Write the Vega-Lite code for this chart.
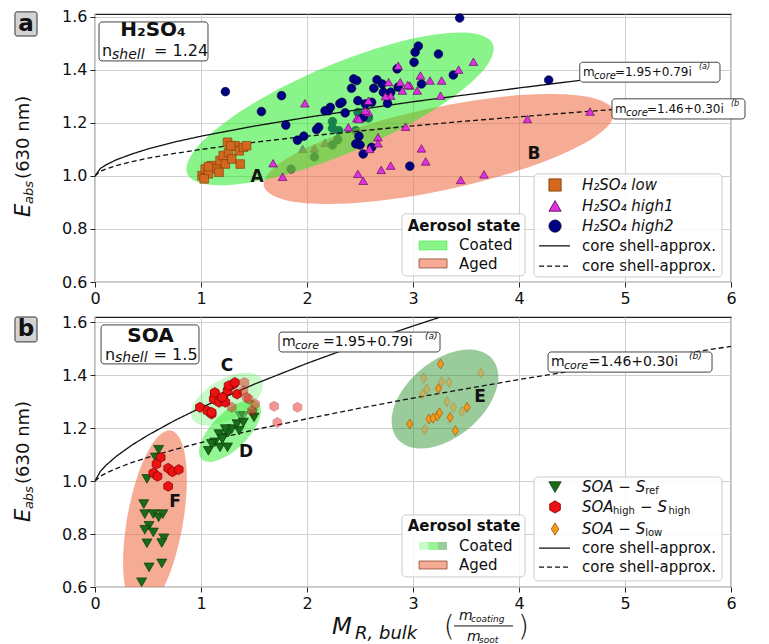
{
"$schema": "https://vega.github.io/schema/vega-lite/v6.json",
"padding": {"left": 12, "top": 8, "right": 5, "bottom": 5},
"background": "white",
"spacing": 35,
"bounds": "flush",
"config": {
  "font": "DejaVu Sans",
  "view": {"stroke": "#222", "strokeWidth": 1.2},
  "axis": {"grid": true, "gridColor": "#d0d0d0", "gridWidth": 1, "domain": false, "tickColor": "#222", "tickSize": 5, "labelFontSize": 16, "labelColor": "#111", "labelPadding": 3, "title": null, "labelFlush": false, "labelOverlap": false}
},
"datasets": {
  "ptsA": [
    {"s":"low","x":1.01,"y":1.001},{"s":"low","x":1.04,"y":1.026},{"s":"low","x":1.07,"y":1.008},{"s":"low","x":1.10,"y":1.039},{"s":"low","x":1.15,"y":1.026},{"s":"low","x":1.18,"y":1.058},{"s":"low","x":1.21,"y":1.077},{"s":"low","x":1.23,"y":1.045},{"s":"low","x":1.26,"y":1.089},{"s":"low","x":1.29,"y":1.064},{"s":"low","x":1.25,"y":1.127},{"s":"low","x":1.32,"y":1.114},{"s":"low","x":1.36,"y":1.095},{"s":"low","x":1.40,"y":1.108},{"s":"low","x":1.37,"y":1.045},{"s":"low","x":1.43,"y":1.114},{"s":"low","x":1.03,"y":0.989},{"s":"low","x":1.17,"y":1.014},{"s":"low","x":1.28,"y":1.114},{"s":"low","x":1.07,"y":1.035},
    {"s":"high2","x":2.07,"y":1.072,"u":1},{"s":"high2","x":1.85,"y":1.026,"u":1},{"s":"high2","x":2.48,"y":1.240,"u":1},{"s":"high2","x":2.58,"y":1.219,"u":1},{"s":"high2","x":2.24,"y":1.205,"u":1},{"s":"high2","x":2.30,"y":1.171,"u":1},{"s":"high2","x":2.24,"y":1.180,"u":1},{"s":"high2","x":2.46,"y":1.171,"u":1},{"s":"high2","x":2.24,"y":1.117,"u":1},{"s":"high2","x":2.29,"y":1.137,"u":1},
    {"s":"high1","x":1.96,"y":1.102,"u":1},{"s":"high1","x":2.07,"y":1.104,"u":1},{"s":"high1","x":2.17,"y":1.125,"u":1},
    {"s":"high2","x":1.23,"y":1.318},{"s":"high2","x":1.76,"y":1.303},{"s":"high2","x":1.57,"y":1.243},{"s":"high2","x":1.80,"y":1.192},{"s":"high2","x":1.97,"y":1.150},{"s":"high2","x":1.91,"y":1.135},{"s":"high2","x":2.09,"y":1.175},{"s":"high2","x":2.20,"y":1.246},{"s":"high2","x":2.31,"y":1.273},{"s":"high2","x":2.36,"y":1.238},{"s":"high2","x":2.48,"y":1.284},{"s":"high2","x":2.55,"y":1.272},{"s":"high2","x":2.76,"y":1.274},{"s":"high2","x":2.49,"y":1.150},{"s":"high2","x":2.46,"y":1.121},{"s":"high2","x":2.50,"y":1.117},{"s":"high2","x":2.53,"y":1.083},{"s":"high2","x":2.61,"y":1.108},{"s":"high2","x":2.97,"y":1.037},
    {"s":"high2","x":3.02,"y":1.467},{"s":"high2","x":3.24,"y":1.460},{"s":"high2","x":3.01,"y":1.429},{"s":"high2","x":2.85,"y":1.404},{"s":"high2","x":2.47,"y":1.360},{"s":"high2","x":2.44,"y":1.366},{"s":"high2","x":2.66,"y":1.363},{"s":"high2","x":2.71,"y":1.347},{"s":"high2","x":2.42,"y":1.331},{"s":"high2","x":2.63,"y":1.331},{"s":"high2","x":2.72,"y":1.316},{"s":"high2","x":2.79,"y":1.316},{"s":"high2","x":2.86,"y":1.335},{"s":"high2","x":3.08,"y":1.347},{"s":"high2","x":3.38,"y":1.381},{"s":"high2","x":2.33,"y":1.278},{"s":"high2","x":2.22,"y":1.259},{"s":"high2","x":2.17,"y":1.246},{"s":"high2","x":2.11,"y":1.184},{"s":"high2","x":2.61,"y":1.278},{"s":"high2","x":4.28,"y":1.362},{"s":"high2","x":2.53,"y":1.221},{"s":"high2","x":3.44,"y":1.596},{"s":"high2","x":3.05,"y":1.49},
    {"s":"high1","x":1.98,"y":1.274},{"s":"high1","x":1.68,"y":1.048},{"s":"high1","x":1.77,"y":0.997},{"s":"high1","x":2.48,"y":1.008},{"s":"high1","x":2.53,"y":0.982},{"s":"high1","x":2.70,"y":1.023},{"s":"high1","x":2.79,"y":1.039},{"s":"high1","x":3.08,"y":1.104},{"s":"high1","x":3.12,"y":1.055},{"s":"high1","x":3.45,"y":0.985},{"s":"high1","x":3.67,"y":1.006},{"s":"high1","x":2.93,"y":1.186},{"s":"high1","x":2.67,"y":1.146},{"s":"high1","x":2.67,"y":1.123},{"s":"high1","x":2.59,"y":1.102},{"s":"high1","x":2.39,"y":1.184},{"s":"high1","x":2.58,"y":1.240},{"s":"high1","x":2.47,"y":1.218},{"s":"high1","x":2.86,"y":1.416},{"s":"high1","x":3.57,"y":1.431},{"s":"high1","x":3.43,"y":1.401},{"s":"high1","x":3.07,"y":1.379},{"s":"high1","x":2.77,"y":1.354},{"s":"high1","x":2.88,"y":1.354},{"s":"high1","x":2.97,"y":1.341},{"s":"high1","x":3.16,"y":1.360},{"s":"high1","x":3.27,"y":1.360},{"s":"high1","x":3.04,"y":1.322},{"s":"high1","x":2.95,"y":1.343},{"s":"high1","x":2.90,"y":1.322},{"s":"high1","x":2.79,"y":1.303},{"s":"high1","x":3.26,"y":1.303},{"s":"high1","x":2.58,"y":1.284},{"s":"high1","x":2.74,"y":1.301},{"s":"high1","x":2.55,"y":1.246},{"s":"high1","x":2.49,"y":1.215},{"s":"high1","x":4.08,"y":1.215},{"s":"high1","x":4.67,"y":1.243}
  ],
  "ptsB": [
    {"s":"ref","x":0.60,"y":1.118},{"s":"ref","x":0.57,"y":1.089},{"s":"ref","x":0.49,"y":1.008},{"s":"ref","x":0.46,"y":0.913},{"s":"ref","x":0.47,"y":0.875},{"s":"ref","x":0.55,"y":0.875},{"s":"ref","x":0.60,"y":0.863},{"s":"ref","x":0.64,"y":0.875},{"s":"ref","x":0.51,"y":0.831},{"s":"ref","x":0.47,"y":0.816},{"s":"ref","x":0.55,"y":0.806},{"s":"ref","x":0.65,"y":0.784},{"s":"ref","x":0.63,"y":0.766},{"s":"ref","x":0.49,"y":0.765},{"s":"ref","x":0.51,"y":0.674},{"s":"ref","x":0.63,"y":0.689},{"s":"ref","x":0.44,"y":0.618},
    {"s":"ref","x":1.07,"y":1.114},{"s":"ref","x":1.13,"y":1.146},{"s":"ref","x":1.18,"y":1.127},{"s":"ref","x":1.25,"y":1.127},{"s":"ref","x":1.21,"y":1.165},{"s":"ref","x":1.17,"y":1.177},{"s":"ref","x":1.26,"y":1.184},{"s":"ref","x":1.29,"y":1.196},{"s":"ref","x":1.36,"y":1.190},{"s":"ref","x":1.34,"y":1.215},{"s":"ref","x":1.40,"y":1.221},{"s":"ref","x":1.50,"y":1.240},{"s":"ref","x":1.10,"y":1.140},{"s":"ref","x":1.20,"y":1.158},{"s":"ref","x":1.23,"y":1.196},{"s":"ref","x":1.49,"y":1.255,"f":1},{"s":"ref","x":1.40,"y":1.246,"f":1},{"s":"ref","x":1.37,"y":1.245,"f":1},
    {"s":"high","x":0.99,"y":1.278},{"s":"high","x":1.06,"y":1.265},{"s":"high","x":1.10,"y":1.253},{"s":"high","x":1.13,"y":1.328},{"s":"high","x":1.12,"y":1.309},{"s":"high","x":1.17,"y":1.297},{"s":"high","x":1.21,"y":1.316},{"s":"high","x":1.23,"y":1.297},{"s":"high","x":1.28,"y":1.360},{"s":"high","x":1.31,"y":1.366},{"s":"high","x":1.25,"y":1.341},{"s":"high","x":1.34,"y":1.328},{"s":"high","x":1.13,"y":1.334},{"s":"high","x":1.20,"y":1.316},{"s":"high","x":1.26,"y":1.360},{"s":"high","x":1.32,"y":1.372},{"s":"high","x":1.10,"y":1.259},
    {"s":"high","x":1.29,"y":1.278,"f":1},{"s":"high","x":1.40,"y":1.341,"f":1},{"s":"high","x":1.43,"y":1.316,"f":1},{"s":"high","x":1.51,"y":1.291,"f":1},{"s":"high","x":1.48,"y":1.265,"f":1},{"s":"high","x":1.69,"y":1.282,"f":1},{"s":"high","x":1.91,"y":1.278,"f":1},{"s":"high","x":1.72,"y":1.221,"f":1},{"s":"high","x":1.41,"y":1.372,"f":1},{"s":"high","x":1.45,"y":1.309,"f":1},
    {"s":"high","x":0.62,"y":1.089},{"s":"high","x":0.58,"y":1.064},{"s":"high","x":0.69,"y":1.048},{"s":"high","x":0.73,"y":1.035},{"s":"high","x":0.79,"y":1.043},{"s":"high","x":0.55,"y":1.030},{"s":"high","x":0.59,"y":1.018},{"s":"high","x":0.69,"y":0.980},
    {"s":"slow","x":3.26,"y":1.442},{"s":"slow","x":3.10,"y":1.388,"f":1},{"s":"slow","x":3.64,"y":1.408,"f":1},{"s":"slow","x":3.27,"y":1.375,"f":1},{"s":"slow","x":3.34,"y":1.372,"f":1},{"s":"slow","x":3.13,"y":1.347,"f":1},{"s":"slow","x":3.09,"y":1.328,"f":1},{"s":"slow","x":3.24,"y":1.349},{"s":"slow","x":3.32,"y":1.299,"f":1},{"s":"slow","x":3.38,"y":1.278,"f":1},{"s":"slow","x":3.46,"y":1.262,"f":1},{"s":"slow","x":3.51,"y":1.278},{"s":"slow","x":3.15,"y":1.234},{"s":"slow","x":3.19,"y":1.237},{"s":"slow","x":3.23,"y":1.246},{"s":"slow","x":3.25,"y":1.257},{"s":"slow","x":3.35,"y":1.240},{"s":"slow","x":2.97,"y":1.215},{"s":"slow","x":3.11,"y":1.194,"f":1},{"s":"slow","x":3.40,"y":1.190}
  ],
  "ell": [
    {"p":"a","e":"B","i":0,"x":4.897,"y":1.242},{"p":"a","e":"B","i":1,"x":4.635,"y":1.300},{"p":"a","e":"B","i":2,"x":4.001,"y":1.305},{"p":"a","e":"B","i":3,"x":3.164,"y":1.255},{"p":"a","e":"B","i":4,"x":2.349,"y":1.164},{"p":"a","e":"B","i":5,"x":1.775,"y":1.057},{"p":"a","e":"B","i":6,"x":1.593,"y":0.962},{"p":"a","e":"B","i":7,"x":1.856,"y":0.904},{"p":"a","e":"B","i":8,"x":2.490,"y":0.899},{"p":"a","e":"B","i":9,"x":3.326,"y":0.949},{"p":"a","e":"B","i":10,"x":4.142,"y":1.040},{"p":"a","e":"B","i":11,"x":4.716,"y":1.147},
    {"p":"a","e":"A","i":0,"x":3.753,"y":1.498},{"p":"a","e":"A","i":1,"x":3.478,"y":1.541},{"p":"a","e":"A","i":2,"x":2.892,"y":1.508},{"p":"a","e":"A","i":3,"x":2.149,"y":1.406},{"p":"a","e":"A","i":4,"x":1.450,"y":1.263},{"p":"a","e":"A","i":5,"x":0.982,"y":1.117},{"p":"a","e":"A","i":6,"x":0.870,"y":1.008},{"p":"a","e":"A","i":7,"x":1.144,"y":0.965},{"p":"a","e":"A","i":8,"x":1.731,"y":0.998},{"p":"a","e":"A","i":9,"x":2.474,"y":1.100},{"p":"a","e":"A","i":10,"x":3.173,"y":1.243},{"p":"a","e":"A","i":11,"x":3.641,"y":1.388},
    {"p":"b","e":"C","i":0,"x":1.572,"y":1.385},{"p":"b","e":"C","i":1,"x":1.481,"y":1.407},{"p":"b","e":"C","i":2,"x":1.327,"y":1.404},{"p":"b","e":"C","i":3,"x":1.151,"y":1.375},{"p":"b","e":"C","i":4,"x":1.000,"y":1.328},{"p":"b","e":"C","i":5,"x":0.915,"y":1.277},{"p":"b","e":"C","i":6,"x":0.918,"y":1.234},{"p":"b","e":"C","i":7,"x":1.009,"y":1.211},{"p":"b","e":"C","i":8,"x":1.164,"y":1.215},{"p":"b","e":"C","i":9,"x":1.340,"y":1.244},{"p":"b","e":"C","i":10,"x":1.490,"y":1.291},{"p":"b","e":"C","i":11,"x":1.575,"y":1.342},
    {"p":"b","e":"D","i":0,"x":1.540,"y":1.295},{"p":"b","e":"D","i":1,"x":1.445,"y":1.305},{"p":"b","e":"D","i":2,"x":1.303,"y":1.284},{"p":"b","e":"D","i":3,"x":1.153,"y":1.237},{"p":"b","e":"D","i":4,"x":1.036,"y":1.177},{"p":"b","e":"D","i":5,"x":0.983,"y":1.120},{"p":"b","e":"D","i":6,"x":1.007,"y":1.082},{"p":"b","e":"D","i":7,"x":1.103,"y":1.072},{"p":"b","e":"D","i":8,"x":1.244,"y":1.094},{"p":"b","e":"D","i":9,"x":1.394,"y":1.141},{"p":"b","e":"D","i":10,"x":1.511,"y":1.200},{"p":"b","e":"D","i":11,"x":1.565,"y":1.257},
    {"p":"b","e":"E","i":0,"x":3.750,"y":1.460},{"p":"b","e":"E","i":1,"x":3.575,"y":1.495},{"p":"b","e":"E","i":2,"x":3.326,"y":1.480},{"p":"b","e":"E","i":3,"x":3.071,"y":1.419},{"p":"b","e":"E","i":4,"x":2.878,"y":1.329},{"p":"b","e":"E","i":5,"x":2.799,"y":1.234},{"p":"b","e":"E","i":6,"x":2.854,"y":1.159},{"p":"b","e":"E","i":7,"x":3.029,"y":1.124},{"p":"b","e":"E","i":8,"x":3.278,"y":1.139},{"p":"b","e":"E","i":9,"x":3.532,"y":1.200},{"p":"b","e":"E","i":10,"x":3.725,"y":1.290},{"p":"b","e":"E","i":11,"x":3.805,"y":1.385},
    {"p":"b","e":"F","i":0,"x":0.717,"y":1.191},{"p":"b","e":"F","i":1,"x":0.566,"y":1.154},{"p":"b","e":"F","i":2,"x":0.416,"y":1.036},{"p":"b","e":"F","i":3,"x":0.306,"y":0.867},{"p":"b","e":"F","i":4,"x":0.265,"y":0.694},{"p":"b","e":"F","i":5,"x":0.305,"y":0.562},{"p":"b","e":"F","i":6,"x":0.415,"y":0.507},{"p":"b","e":"F","i":7,"x":0.566,"y":0.544},{"p":"b","e":"F","i":8,"x":0.716,"y":0.662},{"p":"b","e":"F","i":9,"x":0.826,"y":0.831},{"p":"b","e":"F","i":10,"x":0.867,"y":1.004},{"p":"b","e":"F","i":11,"x":0.827,"y":1.136}
  ],
  "crv": [
    {"p":"a","k":"solid","x":0,"y":1.0},{"p":"a","k":"solid","x":0.05,"y":1.028},{"p":"a","k":"solid","x":0.1,"y":1.041},{"p":"a","k":"solid","x":0.2,"y":1.061},{"p":"a","k":"solid","x":0.35,"y":1.083},{"p":"a","k":"solid","x":0.5,"y":1.102},{"p":"a","k":"solid","x":0.75,"y":1.128},{"p":"a","k":"solid","x":1,"y":1.15},{"p":"a","k":"solid","x":1.5,"y":1.188},{"p":"a","k":"solid","x":2,"y":1.221},{"p":"a","k":"solid","x":2.5,"y":1.251},{"p":"a","k":"solid","x":3,"y":1.28},{"p":"a","k":"solid","x":3.5,"y":1.306},{"p":"a","k":"solid","x":4,"y":1.332},{"p":"a","k":"solid","x":4.6,"y":1.362},
    {"p":"a","k":"dashed","x":0,"y":1.0},{"p":"a","k":"dashed","x":0.05,"y":1.018},{"p":"a","k":"dashed","x":0.1,"y":1.026},{"p":"a","k":"dashed","x":0.2,"y":1.039},{"p":"a","k":"dashed","x":0.35,"y":1.054},{"p":"a","k":"dashed","x":0.5,"y":1.067},{"p":"a","k":"dashed","x":0.75,"y":1.085},{"p":"a","k":"dashed","x":1,"y":1.1},{"p":"a","k":"dashed","x":1.5,"y":1.127},{"p":"a","k":"dashed","x":2,"y":1.15},{"p":"a","k":"dashed","x":2.5,"y":1.17},{"p":"a","k":"dashed","x":3,"y":1.189},{"p":"a","k":"dashed","x":3.5,"y":1.207},{"p":"a","k":"dashed","x":4,"y":1.223},{"p":"a","k":"dashed","x":4.5,"y":1.239},{"p":"a","k":"dashed","x":4.9,"y":1.251},
    {"p":"b","k":"solid","x":0,"y":1.0},{"p":"b","k":"solid","x":0.05,"y":1.036},{"p":"b","k":"solid","x":0.1,"y":1.058},{"p":"b","k":"solid","x":0.2,"y":1.093},{"p":"b","k":"solid","x":0.35,"y":1.136},{"p":"b","k":"solid","x":0.5,"y":1.173},{"p":"b","k":"solid","x":0.75,"y":1.228},{"p":"b","k":"solid","x":1,"y":1.277},{"p":"b","k":"solid","x":1.5,"y":1.365},{"p":"b","k":"solid","x":2,"y":1.444},{"p":"b","k":"solid","x":2.5,"y":1.517},{"p":"b","k":"solid","x":3,"y":1.585},{"p":"b","k":"solid","x":3.3,"y":1.624},
    {"p":"b","k":"dashed","x":0,"y":1.0},{"p":"b","k":"dashed","x":0.05,"y":1.018},{"p":"b","k":"dashed","x":0.1,"y":1.029},{"p":"b","k":"dashed","x":0.2,"y":1.047},{"p":"b","k":"dashed","x":0.35,"y":1.07},{"p":"b","k":"dashed","x":0.5,"y":1.089},{"p":"b","k":"dashed","x":0.75,"y":1.119},{"p":"b","k":"dashed","x":1,"y":1.145},{"p":"b","k":"dashed","x":1.5,"y":1.193},{"p":"b","k":"dashed","x":2,"y":1.235},{"p":"b","k":"dashed","x":2.5,"y":1.275},{"p":"b","k":"dashed","x":3,"y":1.313},{"p":"b","k":"dashed","x":3.5,"y":1.348},{"p":"b","k":"dashed","x":4,"y":1.383},{"p":"b","k":"dashed","x":4.5,"y":1.415},{"p":"b","k":"dashed","x":5,"y":1.447},{"p":"b","k":"dashed","x":5.5,"y":1.478},{"p":"b","k":"dashed","x":6,"y":1.508}
  ],
  "boxDark": [
    {"p":"a","x":0.038,"x2":1.066,"y":1.581,"y2":1.434},{"p":"a","x":4.573,"x2":5.896,"y":1.429,"y2":1.354},{"p":"a","x":4.877,"x2":6.132,"y":1.291,"y2":1.215},
    {"p":"b","x":0.057,"x2":0.981,"y":1.589,"y2":1.442},{"p":"b","x":1.736,"x2":3.255,"y":1.562,"y2":1.487},{"p":"b","x":4.274,"x2":5.821,"y":1.487,"y2":1.411}
  ],
  "boxLight": [
    {"p":"a","x":4.142,"x2":5.915,"y":1.008,"y2":0.619},{"p":"a","x":2.896,"x2":4.057,"y":0.857,"y2":0.623},
    {"p":"b","x":4.142,"x2":5.915,"y":1.015,"y2":0.623},{"p":"b","x":2.896,"x2":4.057,"y":0.872,"y2":0.638}
  ],
  "tagBox": [{"p":"a","x":-0.755,"x2":-0.547,"y":1.619,"y2":1.528},{"p":"b","x":-0.755,"x2":-0.547,"y":1.619,"y2":1.525}],
  "sw": [
    {"p":"a","e":"A","x":3.057,"x2":3.321,"y":0.755,"y2":0.721},{"p":"a","e":"B","x":3.057,"x2":3.321,"y":0.687,"y2":0.653},
    {"p":"b","e":"C","x":3.057,"x2":3.145,"y":0.770,"y2":0.740},{"p":"b","e":"D","x":3.145,"x2":3.233,"y":0.770,"y2":0.740},{"p":"b","e":"E","x":3.233,"x2":3.321,"y":0.770,"y2":0.740},{"p":"b","e":"F","x":3.057,"x2":3.321,"y":0.698,"y2":0.668}
  ],
  "legM": [
    {"p":"a","s":"low","x":4.34,"y":0.966},{"p":"a","s":"high1","x":4.34,"y":0.887},{"p":"a","s":"high2","x":4.34,"y":0.811},
    {"p":"b","s":"ref","x":4.34,"y":0.977},{"p":"b","s":"high","x":4.34,"y":0.902},{"p":"b","s":"slow","x":4.34,"y":0.819}
  ],
  "legL": [
    {"p":"a","k":"solid","x":4.189,"x2":4.481,"y":0.736},{"p":"a","k":"dashed","x":4.189,"x2":4.481,"y":0.660},
    {"p":"b","k":"solid","x":4.189,"x2":4.481,"y":0.747},{"p":"b","k":"dashed","x":4.189,"x2":4.481,"y":0.675}
  ],
  "tag": [{"p":"a","t":"a","x":-0.651,"y":1.574},{"p":"b","t":"b","x":-0.651,"y":1.572}],
  "ttl": [{"p":"a","t":"H₂SO₄","x":0.547,"y":1.549},{"p":"b","t":"SOA","x":0.524,"y":1.549}],
  "nMain": [{"p":"a","t":"n","x":0.066,"y":1.471},{"p":"a","t":"= 1.24","x":0.557,"y":1.471},{"p":"b","t":"n","x":0.094,"y":1.477},{"p":"b","t":"= 1.5","x":0.553,"y":1.477}],
  "nSub": [{"p":"a","t":"shell","x":0.160,"y":1.458},{"p":"b","t":"shell","x":0.189,"y":1.464}],
  "mMain": [
    {"p":"a","t":"m","x":4.604,"y":1.392},{"p":"a","t":"=1.95+0.79i","x":4.905,"y":1.392},{"p":"a","t":"m","x":4.906,"y":1.253},{"p":"a","t":"=1.46+0.30i","x":5.207,"y":1.253},
    {"p":"b","t":"m","x":1.764,"y":1.525},{"p":"b","t":"=1.95+0.79i","x":2.150,"y":1.525},{"p":"b","t":"m","x":4.302,"y":1.449},{"p":"b","t":"=1.46+0.30i","x":4.655,"y":1.449}
  ],
  "mSub": [
    {"p":"a","t":"core","x":4.708,"y":1.377},{"p":"a","t":"core","x":5.009,"y":1.238},
    {"p":"b","t":"core","x":1.887,"y":1.509},{"p":"b","t":"core","x":4.425,"y":1.434}
  ],
  "mSup": [
    {"p":"a","t":"(a)","x":5.698,"y":1.411},{"p":"a","t":"(b","x":6.0,"y":1.272},
    {"p":"b","t":"(a)","x":3.113,"y":1.547},{"p":"b","t":"(b)","x":5.604,"y":1.472}
  ],
  "ellLab": [
    {"p":"a","t":"A","x":1.528,"y":0.996},{"p":"a","t":"B","x":4.142,"y":1.083},
    {"p":"b","t":"C","x":1.245,"y":1.434},{"p":"b","t":"D","x":1.425,"y":1.109},{"p":"b","t":"E","x":3.632,"y":1.317},{"p":"b","t":"F","x":0.755,"y":0.921}
  ],
  "legIt": [
    {"p":"a","t":"H₂SO₄ low","x":4.594,"y":0.966},{"p":"a","t":"H₂SO₄ high1","x":4.594,"y":0.887},{"p":"a","t":"H₂SO₄ high2","x":4.594,"y":0.811},
    {"p":"b","t":"SOA − S","x":4.594,"y":0.977},{"p":"b","t":"SOA","x":4.594,"y":0.902},{"p":"b","t":"− S","x":5.142,"y":0.902},{"p":"b","t":"SOA − S","x":4.594,"y":0.819}
  ],
  "legSub": [
    {"p":"b","t":"ref","x":5.19,"y":0.962},{"p":"b","t":"high","x":4.887,"y":0.887},{"p":"b","t":"high","x":5.41,"y":0.887},{"p":"b","t":"low","x":5.19,"y":0.804}
  ],
  "legTxt": [
    {"p":"a","t":"core shell-approx.","x":4.594,"y":0.736},{"p":"a","t":"core shell-approx.","x":4.594,"y":0.660},{"p":"a","t":"Coated","x":3.434,"y":0.740},{"p":"a","t":"Aged","x":3.434,"y":0.668},
    {"p":"b","t":"core shell-approx.","x":4.594,"y":0.747},{"p":"b","t":"core shell-approx.","x":4.594,"y":0.675},{"p":"b","t":"Coated","x":3.434,"y":0.755},{"p":"b","t":"Aged","x":3.434,"y":0.683}
  ],
  "legBold": [{"p":"a","t":"Aerosol state","x":3.481,"y":0.811},{"p":"b","t":"Aerosol state","x":3.481,"y":0.830}],
  "yE": [{"p":"a","t":"E","x":-0.670,"y":0.845},{"p":"b","t":"E","x":-0.670,"y":0.845}],
  "yAbs": [{"p":"a","t":"abs","x":-0.623,"y":0.894},{"p":"b","t":"abs","x":-0.623,"y":0.894}],
  "yNm": [{"p":"a","t":"(630 nm)","x":-0.670,"y":0.989},{"p":"b","t":"(630 nm)","x":-0.670,"y":0.989}],
  "xBig": [{"t":"M","x":2.236,"y":0.449}],
  "xSub": [{"t":"R, bulk","x":2.453,"y":0.423}],
  "xPar": [{"t":"(","x":3.29,"y":0.445},{"t":")","x":3.99,"y":0.445}],
  "xFracM": [{"t":"m","x":3.434,"y":0.491},{"t":"m","x":3.509,"y":0.411}],
  "xFracS": [{"t":"coating","x":3.547,"y":0.479},{"t":"soot","x":3.623,"y":0.400}],
  "xRule": [{"x":3.387,"x2":3.943,"y":0.453}]
},
"resolve": {"scale": {"x": "independent", "y": "independent"}},
"vconcat": [
{
  "width": 636, "height": 268,
  "resolve": {"scale": {"fill": "independent", "stroke": "independent", "shape": "independent", "strokeDash": "independent"}},
  "encoding": {
    "x": {"field": "x", "type": "quantitative", "scale": {"domain": [0, 6], "nice": false, "zero": false}, "axis": {"values": [0,1,2,3,4,5,6], "format": "d"}},
    "y": {"field": "y", "type": "quantitative", "scale": {"domain": [0.6, 1.611], "nice": false, "zero": false}, "axis": {"values": [0.6,0.8,1.0,1.2,1.4,1.6], "format": ".1f"}}
  },
  "layer": [
    {"data": {"name": "ptsA"}, "transform": [{"filter": "datum.u == 1"}],
     "mark": {"type": "point", "filled": true, "size": 75, "strokeWidth": 0.6, "opacity": 1},
     "encoding": {
       "shape": {"field": "s", "type": "nominal", "legend": null, "scale": {"domain": ["low","high1","high2"], "range": ["square","triangle-up","circle"]}},
       "fill": {"field": "s", "type": "nominal", "legend": null, "scale": {"domain": ["low","high1","high2"], "range": ["#d2691e","#e030e0","#000080"]}},
       "stroke": {"field": "s", "type": "nominal", "legend": null, "scale": {"domain": ["low","high1","high2"], "range": ["#7a3a0a","#4b0050","#000030"]}}
     }},
    {"data": {"name": "ell"}, "transform": [{"filter": "datum.p == 'a'"}],
     "mark": {"type": "line", "interpolate": "cardinal-closed", "strokeOpacity": 0},
     "encoding": {
       "order": {"field": "i", "type": "quantitative"},
       "fill": {"field": "e", "type": "nominal", "legend": null, "scale": {"domain": ["B","A"], "range": ["rgba(240,110,70,0.58)","rgba(40,235,40,0.55)"]}}
     }},
    {"data": {"name": "crv"}, "transform": [{"filter": "datum.p == 'a'"}],
     "mark": {"type": "line", "color": "#111", "strokeWidth": 1.3, "clip": true},
     "encoding": {"strokeDash": {"field": "k", "type": "nominal", "legend": null, "scale": {"domain": ["solid","dashed"], "range": [[1,0],[5,3]]}}}},
    {"data": {"name": "ptsA"}, "transform": [{"filter": "datum.u != 1"}],
     "mark": {"type": "point", "filled": true, "size": 75, "strokeWidth": 0.6, "opacity": 1},
     "encoding": {
       "shape": {"field": "s", "type": "nominal", "legend": null, "scale": {"domain": ["low","high1","high2"], "range": ["square","triangle-up","circle"]}},
       "fill": {"field": "s", "type": "nominal", "legend": null, "scale": {"domain": ["low","high1","high2"], "range": ["#d2691e","#e030e0","#000080"]}},
       "stroke": {"field": "s", "type": "nominal", "legend": null, "scale": {"domain": ["low","high1","high2"], "range": ["#7a3a0a","#4b0050","#000030"]}}
     }},
    {"data": {"name": "boxDark"}, "transform": [{"filter": "datum.p == 'a'"}],
     "mark": {"type": "rect", "fill": "white", "stroke": "#444", "strokeWidth": 1, "cornerRadius": 3},
     "encoding": {"x2": {"field": "x2"}, "y2": {"field": "y2"}}},
    {"data": {"name": "boxLight"}, "transform": [{"filter": "datum.p == 'a'"}],
     "mark": {"type": "rect", "fill": "white", "fillOpacity": 0.85, "stroke": "#cccccc", "strokeWidth": 1, "cornerRadius": 4},
     "encoding": {"x2": {"field": "x2"}, "y2": {"field": "y2"}}},
    {"data": {"name": "tagBox"}, "transform": [{"filter": "datum.p == 'a'"}],
     "mark": {"type": "rect", "fill": "#d3d3d3", "stroke": "#333", "strokeWidth": 1, "cornerRadius": 2},
     "encoding": {"x2": {"field": "x2"}, "y2": {"field": "y2"}}},
    {"data": {"name": "sw"}, "transform": [{"filter": "datum.p == 'a'"}],
     "mark": {"type": "rect", "strokeWidth": 0.8},
     "encoding": {"x2": {"field": "x2"}, "y2": {"field": "y2"},
       "fill": {"field": "e", "type": "nominal", "legend": null, "scale": {"domain": ["A","B"], "range": ["rgba(40,235,40,0.55)","rgba(240,110,70,0.58)"]}},
       "stroke": {"field": "e", "type": "nominal", "legend": null, "scale": {"domain": ["A","B"], "range": ["rgba(40,235,40,0.6)","#8a4a30"]}}}},
    {"data": {"name": "legM"}, "transform": [{"filter": "datum.p == 'a'"}],
     "mark": {"type": "point", "filled": true, "size": 150, "strokeWidth": 0.8, "opacity": 1},
     "encoding": {
       "shape": {"field": "s", "type": "nominal", "legend": null, "scale": {"domain": ["low","high1","high2"], "range": ["square","triangle-up","circle"]}},
       "fill": {"field": "s", "type": "nominal", "legend": null, "scale": {"domain": ["low","high1","high2"], "range": ["#d2691e","#e030e0","#000080"]}},
       "stroke": {"field": "s", "type": "nominal", "legend": null, "scale": {"domain": ["low","high1","high2"], "range": ["#7a3a0a","#4b0050","#000030"]}}
     }},
    {"data": {"name": "legL"}, "transform": [{"filter": "datum.p == 'a'"}],
     "mark": {"type": "rule", "color": "#111", "strokeWidth": 1.3},
     "encoding": {"x2": {"field": "x2"}, "strokeDash": {"field": "k", "type": "nominal", "legend": null, "scale": {"domain": ["solid","dashed"], "range": [[1,0],[5,3]]}}}},
    {"data": {"name": "tag"}, "transform": [{"filter": "datum.p == 'a'"}],
     "mark": {"type": "text", "fontSize": 23, "fontWeight": "bold", "align": "center", "baseline": "middle", "color": "#111"},
     "encoding": {"text": {"field": "t"}}},
    {"data": {"name": "ttl"}, "transform": [{"filter": "datum.p == 'a'"}],
     "mark": {"type": "text", "fontSize": 20, "fontWeight": "bold", "align": "center", "baseline": "middle", "color": "#111"},
     "encoding": {"text": {"field": "t"}}},
    {"data": {"name": "nMain"}, "transform": [{"filter": "datum.p == 'a'"}],
     "mark": {"type": "text", "fontSize": 16, "align": "left", "baseline": "middle", "color": "#111"},
     "encoding": {"text": {"field": "t"}}},
    {"data": {"name": "nSub"}, "transform": [{"filter": "datum.p == 'a'"}],
     "mark": {"type": "text", "fontSize": 14, "fontStyle": "italic", "align": "left", "baseline": "middle", "color": "#111"},
     "encoding": {"text": {"field": "t"}}},
    {"data": {"name": "mMain"}, "transform": [{"filter": "datum.p == 'a'"}],
     "mark": {"type": "text", "fontSize": 12, "align": "left", "baseline": "middle", "color": "#111"},
     "encoding": {"text": {"field": "t"}}},
    {"data": {"name": "mSub"}, "transform": [{"filter": "datum.p == 'a'"}],
     "mark": {"type": "text", "fontSize": 10, "fontStyle": "italic", "align": "left", "baseline": "middle", "color": "#111"},
     "encoding": {"text": {"field": "t"}}},
    {"data": {"name": "mSup"}, "transform": [{"filter": "datum.p == 'a'"}],
     "mark": {"type": "text", "fontSize": 8, "fontStyle": "italic", "align": "left", "baseline": "middle", "color": "#111"},
     "encoding": {"text": {"field": "t"}}},
    {"data": {"name": "ellLab"}, "transform": [{"filter": "datum.p == 'a'"}],
     "mark": {"type": "text", "fontSize": 17, "fontWeight": "bold", "align": "center", "baseline": "middle", "color": "#111"},
     "encoding": {"text": {"field": "t"}}},
    {"data": {"name": "legIt"}, "transform": [{"filter": "datum.p == 'a'"}],
     "mark": {"type": "text", "fontSize": 15, "fontStyle": "italic", "align": "left", "baseline": "middle", "color": "#111"},
     "encoding": {"text": {"field": "t"}}},
    {"data": {"name": "legTxt"}, "transform": [{"filter": "datum.p == 'a'"}],
     "mark": {"type": "text", "fontSize": 15, "align": "left", "baseline": "middle", "color": "#111"},
     "encoding": {"text": {"field": "t"}}},
    {"data": {"name": "legBold"}, "transform": [{"filter": "datum.p == 'a'"}],
     "mark": {"type": "text", "fontSize": 15, "fontWeight": "bold", "align": "center", "baseline": "middle", "color": "#111"},
     "encoding": {"text": {"field": "t"}}},
    {"data": {"name": "yE"}, "transform": [{"filter": "datum.p == 'a'"}],
     "mark": {"type": "text", "fontSize": 21, "fontStyle": "italic", "angle": 270, "align": "left", "baseline": "middle", "color": "#111"},
     "encoding": {"text": {"field": "t"}}},
    {"data": {"name": "yAbs"}, "transform": [{"filter": "datum.p == 'a'"}],
     "mark": {"type": "text", "fontSize": 13, "fontStyle": "italic", "angle": 270, "align": "left", "baseline": "middle", "color": "#111"},
     "encoding": {"text": {"field": "t"}}},
    {"data": {"name": "yNm"}, "transform": [{"filter": "datum.p == 'a'"}],
     "mark": {"type": "text", "fontSize": 18, "angle": 270, "align": "left", "baseline": "middle", "color": "#111"},
     "encoding": {"text": {"field": "t"}}}
  ]
},
{
  "width": 636, "height": 270,
  "resolve": {"scale": {"fill": "independent", "stroke": "independent", "shape": "independent", "strokeDash": "independent"}},
  "encoding": {
    "x": {"field": "x", "type": "quantitative", "scale": {"domain": [0, 6], "nice": false, "zero": false}, "axis": {"values": [0,1,2,3,4,5,6], "format": "d"}},
    "y": {"field": "y", "type": "quantitative", "scale": {"domain": [0.6, 1.619], "nice": false, "zero": false}, "axis": {"values": [0.6,0.8,1.0,1.2,1.4,1.6], "format": ".1f"}}
  },
  "layer": [
    {"data": {"name": "ell"}, "transform": [{"filter": "datum.p == 'b'"}],
     "mark": {"type": "line", "interpolate": "cardinal-closed", "strokeOpacity": 0, "clip": true},
     "encoding": {
       "order": {"field": "i", "type": "quantitative"},
       "fill": {"field": "e", "type": "nominal", "legend": null, "scale": {"domain": ["C","D","E","F"], "range": ["rgba(40,235,40,0.25)","rgba(40,235,40,0.5)","rgba(30,140,30,0.45)","rgba(240,110,70,0.58)"]}}
     }},
    {"data": {"name": "crv"}, "transform": [{"filter": "datum.p == 'b'"}],
     "mark": {"type": "line", "color": "#111", "strokeWidth": 1.3, "clip": true},
     "encoding": {"strokeDash": {"field": "k", "type": "nominal", "legend": null, "scale": {"domain": ["solid","dashed"], "range": [[1,0],[5,3]]}}}},
    {"data": {"name": "ptsB"},
     "mark": {"type": "point", "filled": true, "size": 100, "strokeWidth": 0.7},
     "encoding": {
       "shape": {"field": "s", "type": "nominal", "legend": null, "scale": {"domain": ["ref","high","slow"], "range": ["triangle-down","M0,-1L0.866,-0.5L0.866,0.5L0,1L-0.866,0.5L-0.866,-0.5Z","M0,-1L0.62,0L0,1L-0.62,0Z"]}},
       "fill": {"field": "s", "type": "nominal", "legend": null, "scale": {"domain": ["ref","high","slow"], "range": ["#1a6b1a","#ee1111","#f39a1e"]}},
       "stroke": {"field": "s", "type": "nominal", "legend": null, "scale": {"domain": ["ref","high","slow"], "range": ["#0a3a0a","#7a0000","#a05a00"]}},
       "opacity": {"condition": {"test": "datum.f == 1", "value": 0.45}, "value": 1}
     }},
    {"data": {"name": "boxDark"}, "transform": [{"filter": "datum.p == 'b'"}],
     "mark": {"type": "rect", "fill": "white", "stroke": "#444", "strokeWidth": 1, "cornerRadius": 3},
     "encoding": {"x2": {"field": "x2"}, "y2": {"field": "y2"}}},
    {"data": {"name": "boxLight"}, "transform": [{"filter": "datum.p == 'b'"}],
     "mark": {"type": "rect", "fill": "white", "fillOpacity": 0.85, "stroke": "#cccccc", "strokeWidth": 1, "cornerRadius": 4},
     "encoding": {"x2": {"field": "x2"}, "y2": {"field": "y2"}}},
    {"data": {"name": "tagBox"}, "transform": [{"filter": "datum.p == 'b'"}],
     "mark": {"type": "rect", "fill": "#d3d3d3", "stroke": "#333", "strokeWidth": 1, "cornerRadius": 2},
     "encoding": {"x2": {"field": "x2"}, "y2": {"field": "y2"}}},
    {"data": {"name": "sw"}, "transform": [{"filter": "datum.p == 'b'"}],
     "mark": {"type": "rect", "strokeWidth": 0.8},
     "encoding": {"x2": {"field": "x2"}, "y2": {"field": "y2"},
       "fill": {"field": "e", "type": "nominal", "legend": null, "scale": {"domain": ["C","D","E","F"], "range": ["rgba(40,235,40,0.25)","rgba(40,235,40,0.5)","rgba(30,140,30,0.45)","rgba(240,110,70,0.58)"]}},
       "stroke": {"field": "e", "type": "nominal", "legend": null, "scale": {"domain": ["C","D","E","F"], "range": ["rgba(0,0,0,0)","rgba(0,0,0,0)","rgba(0,0,0,0)","#8a4a30"]}}}},
    {"data": {"name": "legM"}, "transform": [{"filter": "datum.p == 'b'"}],
     "mark": {"type": "point", "filled": true, "size": 150, "strokeWidth": 0.8, "opacity": 1},
     "encoding": {
       "shape": {"field": "s", "type": "nominal", "legend": null, "scale": {"domain": ["ref","high","slow"], "range": ["triangle-down","M0,-1L0.866,-0.5L0.866,0.5L0,1L-0.866,0.5L-0.866,-0.5Z","M0,-1L0.62,0L0,1L-0.62,0Z"]}},
       "fill": {"field": "s", "type": "nominal", "legend": null, "scale": {"domain": ["ref","high","slow"], "range": ["#1a6b1a","#ee1111","#f39a1e"]}},
       "stroke": {"field": "s", "type": "nominal", "legend": null, "scale": {"domain": ["ref","high","slow"], "range": ["#0a3a0a","#7a0000","#a05a00"]}}
     }},
    {"data": {"name": "legL"}, "transform": [{"filter": "datum.p == 'b'"}],
     "mark": {"type": "rule", "color": "#111", "strokeWidth": 1.3},
     "encoding": {"x2": {"field": "x2"}, "strokeDash": {"field": "k", "type": "nominal", "legend": null, "scale": {"domain": ["solid","dashed"], "range": [[1,0],[5,3]]}}}},
    {"data": {"name": "tag"}, "transform": [{"filter": "datum.p == 'b'"}],
     "mark": {"type": "text", "fontSize": 23, "fontWeight": "bold", "align": "center", "baseline": "middle", "color": "#111"},
     "encoding": {"text": {"field": "t"}}},
    {"data": {"name": "ttl"}, "transform": [{"filter": "datum.p == 'b'"}],
     "mark": {"type": "text", "fontSize": 20, "fontWeight": "bold", "align": "center", "baseline": "middle", "color": "#111"},
     "encoding": {"text": {"field": "t"}}},
    {"data": {"name": "nMain"}, "transform": [{"filter": "datum.p == 'b'"}],
     "mark": {"type": "text", "fontSize": 16, "align": "left", "baseline": "middle", "color": "#111"},
     "encoding": {"text": {"field": "t"}}},
    {"data": {"name": "nSub"}, "transform": [{"filter": "datum.p == 'b'"}],
     "mark": {"type": "text", "fontSize": 14, "fontStyle": "italic", "align": "left", "baseline": "middle", "color": "#111"},
     "encoding": {"text": {"field": "t"}}},
    {"data": {"name": "mMain"}, "transform": [{"filter": "datum.p == 'b'"}],
     "mark": {"type": "text", "fontSize": 14, "align": "left", "baseline": "middle", "color": "#111"},
     "encoding": {"text": {"field": "t"}}},
    {"data": {"name": "mSub"}, "transform": [{"filter": "datum.p == 'b'"}],
     "mark": {"type": "text", "fontSize": 11, "fontStyle": "italic", "align": "left", "baseline": "middle", "color": "#111"},
     "encoding": {"text": {"field": "t"}}},
    {"data": {"name": "mSup"}, "transform": [{"filter": "datum.p == 'b'"}],
     "mark": {"type": "text", "fontSize": 9, "fontStyle": "italic", "align": "left", "baseline": "middle", "color": "#111"},
     "encoding": {"text": {"field": "t"}}},
    {"data": {"name": "ellLab"}, "transform": [{"filter": "datum.p == 'b'"}],
     "mark": {"type": "text", "fontSize": 17, "fontWeight": "bold", "align": "center", "baseline": "middle", "color": "#111"},
     "encoding": {"text": {"field": "t"}}},
    {"data": {"name": "legIt"}, "transform": [{"filter": "datum.p == 'b'"}],
     "mark": {"type": "text", "fontSize": 15, "fontStyle": "italic", "align": "left", "baseline": "middle", "color": "#111"},
     "encoding": {"text": {"field": "t"}}},
    {"data": {"name": "legSub"}, "transform": [{"filter": "datum.p == 'b'"}],
     "mark": {"type": "text", "fontSize": 10, "align": "left", "baseline": "middle", "color": "#111"},
     "encoding": {"text": {"field": "t"}}},
    {"data": {"name": "legTxt"}, "transform": [{"filter": "datum.p == 'b'"}],
     "mark": {"type": "text", "fontSize": 15, "align": "left", "baseline": "middle", "color": "#111"},
     "encoding": {"text": {"field": "t"}}},
    {"data": {"name": "legBold"}, "transform": [{"filter": "datum.p == 'b'"}],
     "mark": {"type": "text", "fontSize": 15, "fontWeight": "bold", "align": "center", "baseline": "middle", "color": "#111"},
     "encoding": {"text": {"field": "t"}}},
    {"data": {"name": "yE"}, "transform": [{"filter": "datum.p == 'b'"}],
     "mark": {"type": "text", "fontSize": 21, "fontStyle": "italic", "angle": 270, "align": "left", "baseline": "middle", "color": "#111"},
     "encoding": {"text": {"field": "t"}}},
    {"data": {"name": "yAbs"}, "transform": [{"filter": "datum.p == 'b'"}],
     "mark": {"type": "text", "fontSize": 13, "fontStyle": "italic", "angle": 270, "align": "left", "baseline": "middle", "color": "#111"},
     "encoding": {"text": {"field": "t"}}},
    {"data": {"name": "yNm"}, "transform": [{"filter": "datum.p == 'b'"}],
     "mark": {"type": "text", "fontSize": 18, "angle": 270, "align": "left", "baseline": "middle", "color": "#111"},
     "encoding": {"text": {"field": "t"}}},
    {"data": {"name": "xBig"},
     "mark": {"type": "text", "fontSize": 23, "fontStyle": "italic", "align": "left", "baseline": "middle", "color": "#111"},
     "encoding": {"text": {"field": "t"}}},
    {"data": {"name": "xSub"},
     "mark": {"type": "text", "fontSize": 18, "fontStyle": "italic", "align": "left", "baseline": "middle", "color": "#111"},
     "encoding": {"text": {"field": "t"}}},
    {"data": {"name": "xPar"},
     "mark": {"type": "text", "fontSize": 28, "fontWeight": 200, "align": "left", "baseline": "middle", "color": "#111"},
     "encoding": {"text": {"field": "t"}}},
    {"data": {"name": "xFracM"},
     "mark": {"type": "text", "fontSize": 14, "fontStyle": "italic", "align": "left", "baseline": "middle", "color": "#111"},
     "encoding": {"text": {"field": "t"}}},
    {"data": {"name": "xFracS"},
     "mark": {"type": "text", "fontSize": 9, "fontStyle": "italic", "align": "left", "baseline": "middle", "color": "#111"},
     "encoding": {"text": {"field": "t"}}},
    {"data": {"name": "xRule"},
     "mark": {"type": "rule", "color": "#111", "strokeWidth": 1},
     "encoding": {"x2": {"field": "x2"}}}
  ]
}
]
}
